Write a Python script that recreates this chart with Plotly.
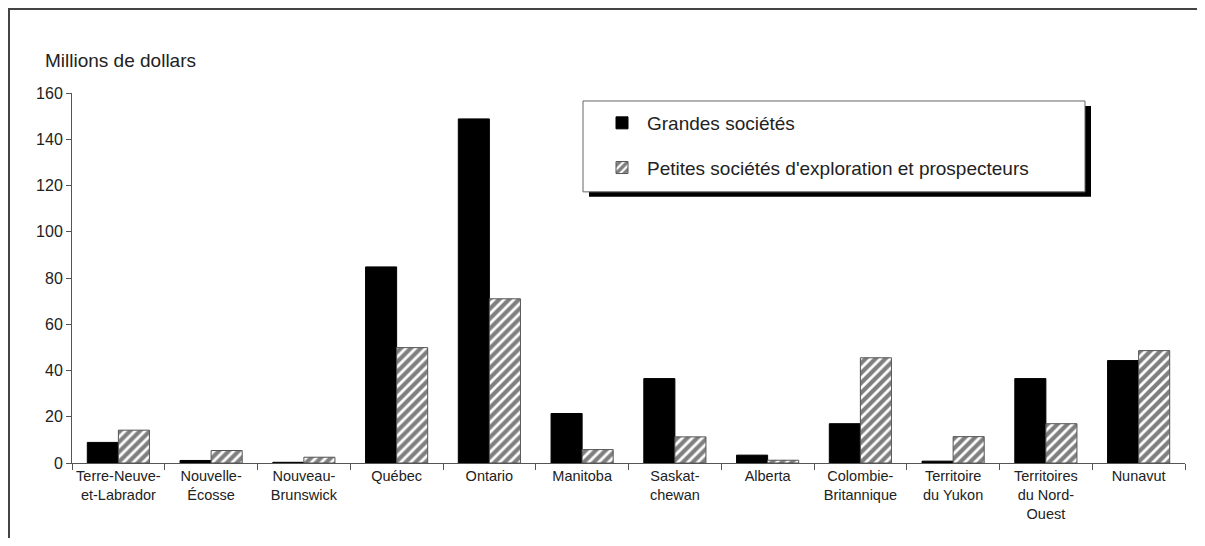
import plotly.graph_objects as go

# Data (millions of dollars)
provinces = [
    "Terre-Neuve-<br>et-Labrador",
    "Nouvelle-<br>Écosse",
    "Nouveau-<br>Brunswick",
    "Québec",
    "Ontario",
    "Manitoba",
    "Saskat-<br>chewan",
    "Alberta",
    "Colombie-<br>Britannique",
    "Territoire<br>du Yukon",
    "Territoires<br>du Nord-<br>Ouest",
    "Nunavut",
]
grandes = [8.9, 1.1, 0.3, 84.8, 148.8, 21.4, 36.5, 3.4, 17.0, 0.8, 36.5, 44.3]
petites = [14.2, 5.4, 2.5, 49.9, 71.0, 5.8, 11.3, 1.2, 45.5, 11.4, 17.0, 48.6]

y_ticks = [0, 20, 40, 60, 80, 100, 120, 140, 160]

FONT = "Arial, 'Liberation Sans', sans-serif"
OFF = 8  # default body margin of the html page
W, H = 1205 - 2 * OFF, 546 - 2 * OFF
L, T = 72 - OFF, 93 - OFF
R = W - (1185 - OFF)
B = H - (463.5 - OFF)


# screenshot pixel -> paper helpers for the decorations (frame, legend box)
def px2x(px):
    return (px - OFF - L) / (W - L - R)


def px2y(py):
    return (H - B - (py - OFF)) / (H - T - B)


fig = go.Figure()
fig.add_trace(go.Bar(
    x=provinces, y=grandes, name="Grandes sociétés",
    marker=dict(color="black", line=dict(color="black", width=1)),
    legendgroup="a",
))
fig.add_trace(go.Bar(
    x=provinces, y=petites, name="Petites sociétés d'exploration et prospecteurs",
    marker=dict(
        color="white",
        line=dict(color="#555555", width=1),
        pattern=dict(shape="/", fgcolor="black", bgcolor="white", size=7, solidity=0.6),
    ),
    legendgroup="b",
))

shapes = [
    # outer frame: top and left edges
    dict(type="line", xref="paper", yref="paper",
         x0=px2x(OFF + 1), x1=px2x(1205), y0=px2y(OFF + 1), y1=px2y(OFF + 1),
         line=dict(color="#444444", width=2)),
    dict(type="line", xref="paper", yref="paper",
         x0=px2x(OFF + 1), x1=px2x(OFF + 1), y0=px2y(OFF), y1=px2y(546),
         line=dict(color="#444444", width=2)),
    # legend shadow
    dict(type="rect", xref="paper", yref="paper",
         x0=px2x(589), x1=px2x(1091), y0=px2y(197), y1=px2y(106),
         line=dict(width=0), fillcolor="black"),
    # legend box
    dict(type="rect", xref="paper", yref="paper",
         x0=px2x(583), x1=px2x(1085), y0=px2y(192), y1=px2y(101),
         line=dict(color="#666666", width=1), fillcolor="white"),
]

fig.update_layout(
    width=W, height=H,
    margin=dict(l=L, r=R, t=T, b=B, autoexpand=False),
    paper_bgcolor="white", plot_bgcolor="white",
    font=dict(family=FONT, color="#222222"),
    barmode="group", bargap=0.33, bargroupgap=0,
    shapes=shapes,
    showlegend=True,
    legend=dict(
        x=px2x(597), y=px2y(104), xanchor="left", yanchor="top",
        bgcolor="rgba(0,0,0,0)", borderwidth=0,
        font=dict(size=19, family=FONT, color="#222222"),
        traceorder="grouped", tracegroupgap=17, itemwidth=40,
    ),
    annotations=[dict(
        text="Millions de dollars", xref="paper", yref="paper",
        x=px2x(43), y=px2y(60), xanchor="left", yanchor="middle",
        showarrow=False, font=dict(size=19, family=FONT, color="#222222"),
    )],
)
fig.update_xaxes(
    showline=True, linecolor="#555555", linewidth=1,
    ticks="outside", tickson="boundaries", ticklen=6, tickcolor="#555555",
    tickangle=0, automargin=False,
    tickfont=dict(size=14.5, family=FONT, color="#222222"),
    showgrid=False, zeroline=False,
)
fig.update_yaxes(
    range=[0, 160], tickvals=y_ticks, automargin=False,
    showline=True, linecolor="#555555", linewidth=1,
    ticks="outside", ticklen=5, tickcolor="#555555",
    tickfont=dict(size=16, family=FONT, color="#222222"),
    showgrid=False, zeroline=False,
)

fig.write_html("out.html")
